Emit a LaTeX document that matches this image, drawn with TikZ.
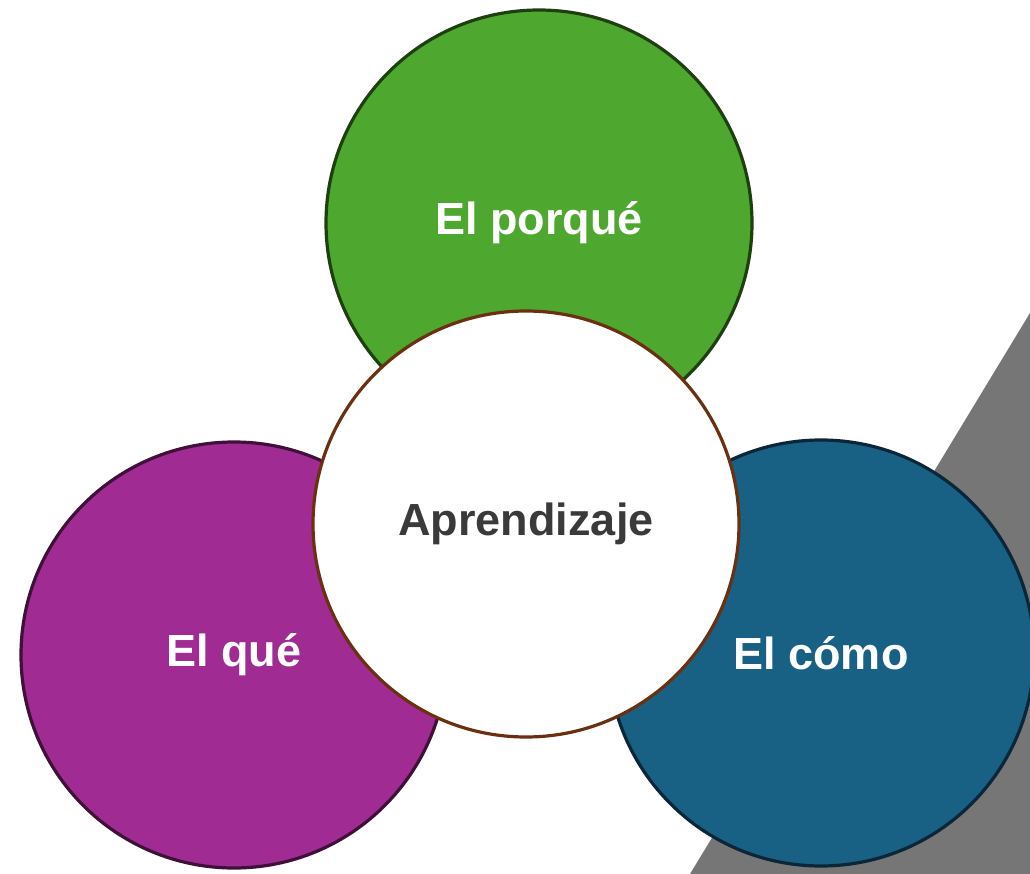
\documentclass[tikz,border=0pt]{standalone}
\usepackage{fontspec}
\setmainfont{Liberation Sans}
\definecolor{verde}{HTML}{4EA72E}
\definecolor{verdeosc}{HTML}{1E4010}
\definecolor{morado}{HTML}{A02B93}
\definecolor{moradoosc}{HTML}{3F1038}
\definecolor{azul}{HTML}{186084}
\definecolor{azulosc}{HTML}{0B2638}
\definecolor{marron}{HTML}{6B3010}
\definecolor{textogris}{HTML}{3A3A3A}
\definecolor{fondogris}{HTML}{767676}
\begin{document}
\begin{tikzpicture}[x=1pt, y=-1pt, line join = round,
		circulo/.style = {circle, minimum size=426pt, inner sep=0pt, line width=3.2pt, font=\fontsize{45}{48}\selectfont\bfseries},
		etiqueta/.style = {circulo, text=white}]
			%Khung hình
			\useasboundingbox (0,0) rectangle (1030,874);
			%Nền xám
			\fill[fondogris] (1030,313) -- (690,874) -- (1040,874) -- (1040,313) -- cycle;
			%Ba vòng tròn ngoài
			\node[etiqueta, fill=verde, draw=verdeosc] (porque) at (539,223) {El porqué};
			\node[etiqueta, fill=morado, draw=moradoosc] (que) at (234,655) {El qué};
			\node[etiqueta, fill=azul, draw=azulosc] (como) at (821,653) {El cómo};
			%Vòng tròn trung tâm
			\node[circulo, fill=white, draw=marron, text=textogris] (aprendizaje) at (526,524) {Aprendizaje};
		\end{tikzpicture}
\end{document}
